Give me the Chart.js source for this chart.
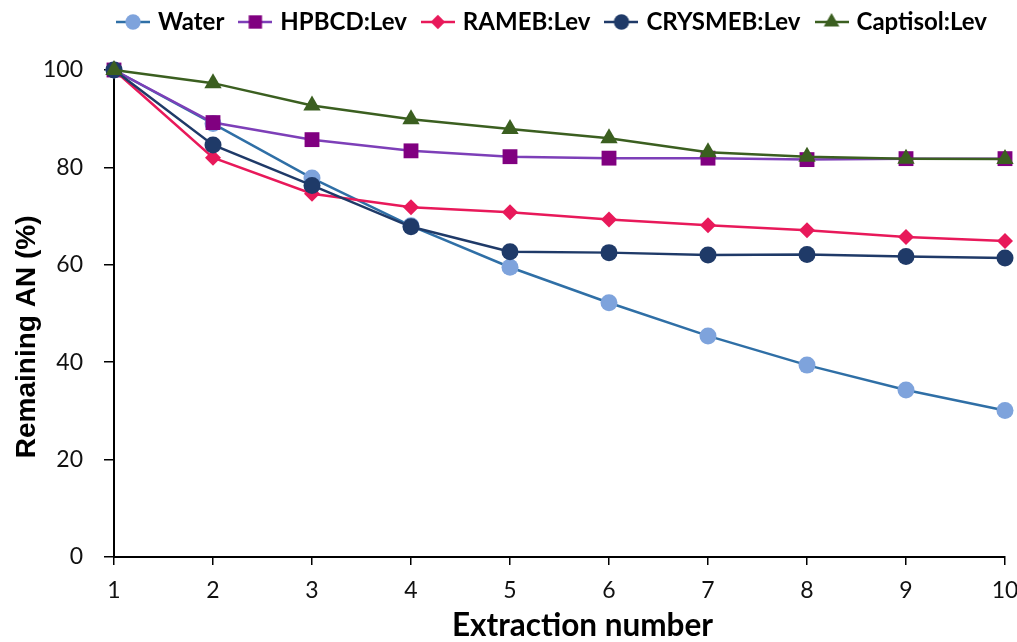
<!DOCTYPE html>
<html>
<head>
<meta charset="utf-8">
<script src="https://cdn.jsdelivr.net/npm/chart.js@4/dist/chart.umd.min.js"></script>
<style>
  html, body { margin:0; padding:0; background:#fff; }
  #wrap { width:1017px; height:642px; }
</style>
</head>
<body>
<div id="wrap"><canvas id="chart" width="1017" height="642"></canvas></div>
<script>
// extraction number (x) and remaining AN (%) for each medium
const extraction = [1, 2, 3, 4, 5, 6, 7, 8, 9, 10];
const water    = [100, 89.0, 77.8, 68.0, 59.5, 52.2, 45.4, 39.4, 34.3, 30.1];
const hpbcd    = [100, 89.2, 85.7, 83.4, 82.2, 81.9, 81.9, 81.6, 81.8, 81.8];
const rameb    = [100, 82.0, 74.6, 71.8, 70.8, 69.3, 68.1, 67.1, 65.7, 64.9];
const crysmeb  = [100, 84.6, 76.3, 67.8, 62.7, 62.5, 62.0, 62.1, 61.7, 61.4];
const captisol = [100, 97.3, 92.7, 89.9, 87.9, 86.0, 83.1, 82.2, 81.8, 81.7];
const yTicks   = [0, 20, 40, 60, 80, 100];

const series = [
  { label:'Water',        data:water,    line:'#2f6fa6', marker:'#7ea3dc', style:'circle',   r:8.5 },
  { label:'HPBCD:Lev',    data:hpbcd,    line:'#7d3fb8', marker:'#800080', style:'rect',     r:10.5 },
  { label:'RAMEB:Lev',    data:rameb,    line:'#e8195a', marker:'#e8195a', style:'rectRot',  r:8 },
  { label:'CRYSMEB:Lev',  data:crysmeb,  line:'#1f3a68', marker:'#1f3a68', style:'circle',   r:8.5 },
  { label:'Captisol:Lev', data:captisol, line:'#3b5f20', marker:'#3b5f20', style:'triangle', r:10 }
];

function legendIcon(s){
  const c = document.createElement('canvas');
  c.width = 34; c.height = 22;
  const g = c.getContext('2d');
  g.strokeStyle = s.line; g.lineWidth = 2.5;
  g.beginPath(); g.moveTo(0, 11); g.lineTo(34, 11); g.stroke();
  g.fillStyle = s.marker;
  if(Chart.helpers && Chart.helpers.drawPoint){
    Chart.helpers.drawPoint(g, { pointStyle:s.style, radius:s.r * 0.9, borderWidth:0, rotation:0 }, 17, 11);
  } else {
    g.beginPath(); g.arc(17, 11, 6, 0, Math.PI*2); g.fill();
  }
  return c;
}
const icons = series.map(legendIcon);

// legend box: taller than its row (plot starts lower), row placed near the top
const legendPlace = {
  id:'legendPlace',
  beforeLayout(chart){
    const lg = chart.legend;
    if(lg && !lg._wrapped){
      const fit = lg.fit;
      lg.fit = function(){ fit.call(this); this.height = 70; };
      lg._wrapped = true;
    }
  },
  afterLayout(chart){
    const lg = chart.legend;
    if(lg){ lg.left = 90; lg.right = 1017; lg.top = -8; }
  }
};

new Chart(document.getElementById('chart'), {
  type:'line',
  data:{
    labels: extraction,
    datasets: series.map((s, i) => ({
      label: s.label,
      data: s.data,
      borderColor: s.line,
      backgroundColor: s.marker,
      pointBackgroundColor: s.marker,
      pointBorderColor: s.marker,
      pointBorderWidth: 0,
      pointStyle: s.style,
      pointRadius: s.r,
      pointHoverRadius: s.r,
      borderWidth: 2.5,
      tension: 0,
      clip: false,
      order: series.length - i
    }))
  },
  options:{
    responsive:false,
    animation:false,
    layout:{ padding:{ top:0, right:12, left:0, bottom:0 } },
    plugins:{
      tooltip:{ enabled:false },
      legend:{
        position:'top',
        labels:{
          usePointStyle:true,
          pointStyleWidth:26,
          padding:18,
          color:'#000',
          font:{ family:'Lato', size:24, weight:'bold' },
          generateLabels: chart => chart.data.datasets.map((ds, i) => ({
            text: ds.label,
            pointStyle: icons[i],
            fillStyle: series[i].marker,
            strokeStyle: series[i].line,
            lineWidth: 0,
            hidden: false,
            datasetIndex: i,
            fontColor: '#000'
          }))
        }
      }
    },
    scales:{
      x:{
        type:'category',
        offset:false,
        grid:{ display:true, drawOnChartArea:false, drawTicks:true, tickLength:8, color:'#000', lineWidth:1.5 },
        border:{ display:true, color:'#000', width:2 },
        ticks:{ color:'#111', padding:12, maxRotation:0, font:{ family:'Lato', size:23 } },
        // leading spaces push the title a little right of centre, as in the original
        title:{ display:true, text:'      Extraction number', color:'#000', padding:{ top:0, bottom:0 },
                font:{ family:'Lato', size:31.5, weight:'bold', lineHeight:1 } },
        afterFit: s => { s.height = 85; s.paddingLeft = 0; s.paddingRight = 0; }
      },
      y:{
        min:0, max:100,
        afterBuildTicks: s => { s.ticks = yTicks.map(v => ({ value:v })); },
        grid:{ display:true, drawOnChartArea:false, drawTicks:true, tickLength:10, color:'#000', lineWidth:1.5 },
        border:{ display:true, color:'#000', width:2 },
        ticks:{ color:'#111', padding:21, font:{ family:'Lato', size:23 } },
        // trailing spaces push the title a little below centre
        title:{ display:true, text:'Remaining AN (%)      ', color:'#000', padding:{ top:10, bottom:0 },
                font:{ family:'Liberation Sans', size:28, weight:'bold', lineHeight:1.2 } },
        afterFit: s => { s.width = 114; s.paddingTop = 0; s.paddingBottom = 0; }
      }
    }
  },
  plugins:[legendPlace]
});
</script>
</body>
</html>
